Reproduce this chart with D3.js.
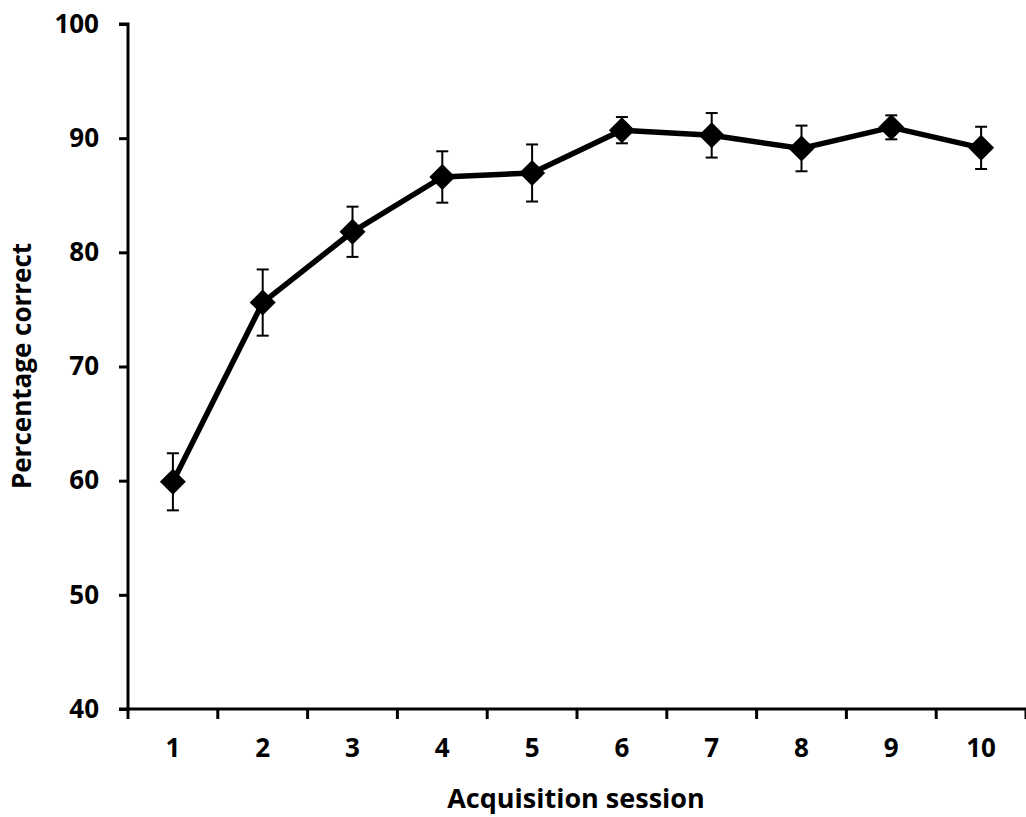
<!DOCTYPE html>
<html>
<head>
<meta charset="utf-8">
<script src="https://cdn.jsdelivr.net/npm/d3@7"></script>
<style>
    body { margin: 0; background: #fff; }
    svg { display: block; font-family: "Open Sans", sans-serif; font-weight: bold; }
</style>
</head>
<body>
<svg id="chart" width="1026" height="817"></svg>
<script>
    // data
    var sessions = ['1', '2', '3', '4', '5', '6', '7', '8', '9', '10'];
    var meanCorrect = [59.9, 75.6, 81.8, 86.6, 86.95, 90.7, 90.25, 89.1, 90.95, 89.15];
    var sem = [2.5, 2.9, 2.2, 2.25, 2.5, 1.15, 1.95, 2.0, 1.05, 1.85];
    var yTicks = [40, 50, 60, 70, 80, 90, 100];

    var margin = { top: 24, right: 0, bottom: 108, left: 128 };
    var width = 1026 - margin.left - margin.right;
    var height = 817 - margin.top - margin.bottom;

    var svg = d3.select('#chart');
    var g = svg.append('g').attr('transform', 'translate(' + margin.left + ',' + margin.top + ')');

    var x = d3.scaleBand().domain(sessions).range([0, width]);
    var y = d3.scaleLinear().domain([40, 100]).range([height, 0]);

    var points = sessions.map(function (s, i) {
        return { session: s, mean: meanCorrect[i], err: sem[i] };
    });

    var cx = function (d) { return x(d.session) + x.bandwidth() / 2; };

    /*============ AXES ============*/

    var yAxis = g.append('g')
        .call(d3.axisLeft(y).tickValues(yTicks).tickSize(9).tickPadding(20));

    var xTickPos = d3.range(sessions.length + 1).map(function (i) { return i * x.bandwidth(); });
    var xAxis = g.append('g')
        .attr('transform', 'translate(0,' + height + ')')
        .call(d3.axisBottom(x).tickSize(0).tickPadding(30));

    xAxis.selectAll('.xtick')
        .data(xTickPos)
        .enter().append('line')
            .attr('x1', function (d) { return d; })
            .attr('x2', function (d) { return d; })
            .attr('y1', 0)
            .attr('y2', 10)
            .attr('stroke', '#000')
            .attr('stroke-width', 3);

    [yAxis, xAxis].forEach(function (ax) {
        ax.select('.domain').attr('stroke', '#000').attr('stroke-width', 3);
        ax.selectAll('.tick line').attr('stroke', '#000').attr('stroke-width', 3);
        ax.selectAll('.tick text')
            .attr('fill', '#000')
            .style('font-size', '26px')
            .style('font-weight', 'bold')
            .style('font-family', '"Open Sans", sans-serif');
    });
    yAxis.select('.domain').attr('d', 'M-9,0H0V' + height + 'H-9');
    xAxis.select('.domain').attr('d', 'M0,0H' + width);

    /*============ ERROR BARS ============*/

    var bars = g.append('g').selectAll('g.err')
        .data(points)
        .enter().append('g')
            .attr('class', 'err')
            .attr('stroke', '#000')
            .attr('stroke-width', 2);

    bars.append('line')
        .attr('x1', cx).attr('x2', cx)
        .attr('y1', function (d) { return y(d.mean + d.err); })
        .attr('y2', function (d) { return y(d.mean - d.err); });

    bars.append('line')
        .attr('x1', function (d) { return cx(d) - 6; })
        .attr('x2', function (d) { return cx(d) + 6; })
        .attr('y1', function (d) { return y(d.mean + d.err); })
        .attr('y2', function (d) { return y(d.mean + d.err); });

    bars.append('line')
        .attr('x1', function (d) { return cx(d) - 6; })
        .attr('x2', function (d) { return cx(d) + 6; })
        .attr('y1', function (d) { return y(d.mean - d.err); })
        .attr('y2', function (d) { return y(d.mean - d.err); });

    /*============ LINE AND MARKERS ============*/

    var line = d3.line().x(cx).y(function (d) { return y(d.mean); });

    g.append('path')
        .datum(points)
        .attr('d', line)
        .attr('fill', 'none')
        .attr('stroke', '#000')
        .attr('stroke-width', 5.5)
        .attr('stroke-linejoin', 'round');

    g.append('g').selectAll('path.marker')
        .data(points)
        .enter().append('path')
            .attr('class', 'marker')
            .attr('d', 'M0,-13L13,0L0,13L-13,0Z')
            .attr('transform', function (d) { return 'translate(' + cx(d) + ',' + y(d.mean) + ')'; })
            .attr('fill', '#000');

    /*============ TITLES ============*/

    svg.append('text')
        .attr('x', margin.left + width / 2 - 1)
        .attr('y', 808)
        .attr('text-anchor', 'middle')
        .style('font-size', '27px')
        .text('Acquisition session');

    svg.append('text')
        .attr('transform', 'translate(31,366) rotate(-90)')
        .attr('text-anchor', 'middle')
        .style('font-size', '26px')
        .text('Percentage correct');
</script>
</body>
</html>
